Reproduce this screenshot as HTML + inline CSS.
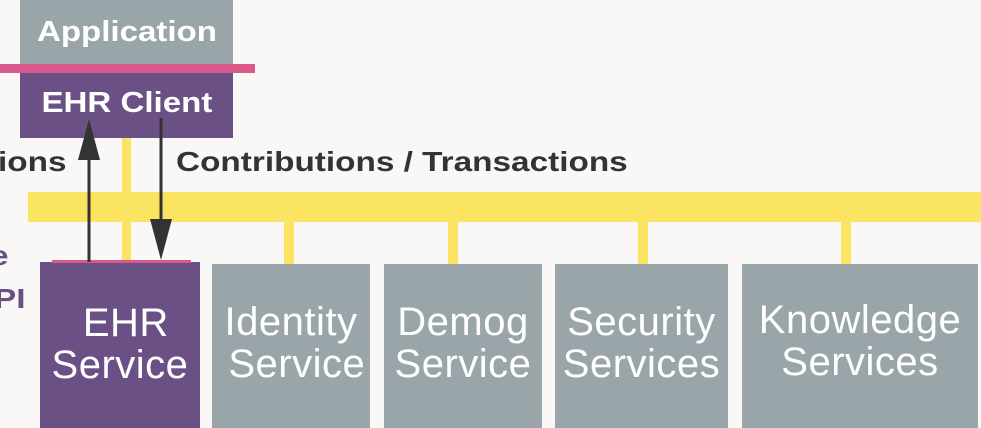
<!DOCTYPE html>
<html><head><style>
body{margin:0;width:981px;height:428px;background:#f9f8f6;position:relative;overflow:hidden;font-family:"Liberation Sans",Arial,sans-serif}
div{position:absolute}
.g{background:#9aa5a9}
.p{background:#6a5084}
.y{background:#fbe462}
.t{color:#fff;text-align:center;font-size:40px;line-height:42px;letter-spacing:0.5px}
.b{color:#fff;font-weight:bold;font-size:29px;text-align:center}
.b span{display:inline-block;transform:scaleX(1.14)}
.s{transform-origin:0 0;transform:scaleX(1.19);white-space:nowrap}
</style></head><body>
<div class="g b" style="left:20px;top:0;width:213px;height:64px;line-height:64px"><span>Application</span></div>
<div style="left:0;top:64px;width:255px;height:9px;background:#d9598a"></div>
<div class="p b" style="left:20px;top:73px;width:213px;height:65px;line-height:60px"><span>EHR Client</span></div>
<div class="y" style="left:122px;top:138px;width:9px;height:125px"></div>
<div class="y" style="left:28px;top:192px;width:953px;height:30px"></div>
<div class="y" style="left:284px;top:222px;width:10px;height:42px"></div>
<div class="y" style="left:448px;top:222px;width:10px;height:42px"></div>
<div class="y" style="left:638px;top:222px;width:10px;height:42px"></div>
<div class="y" style="left:841px;top:222px;width:10px;height:42px"></div>
<div class="s" style="left:-2px;top:146px;font-weight:bold;font-size:28px;color:#333">ions</div>
<div class="s" style="left:176px;top:146px;font-weight:bold;font-size:28px;color:#333">Contributions / Transactions</div>
<div class="s" style="left:-10px;top:240px;font-weight:bold;font-size:28px;color:#6a5084">e</div>
<div class="s" style="left:-6px;top:283px;font-weight:bold;font-size:28px;color:#6a5084">PI</div>
<div class="p t" style="left:40px;top:262px;width:160px;height:166px;padding-top:40px;box-sizing:border-box">&nbsp;EHR<br>Service</div>
<div style="left:52px;top:260px;width:139px;height:3px;background:#d9598a"></div>
<div class="g t" style="left:212px;top:264px;width:158px;height:164px;padding-top:37px;box-sizing:border-box">Identity<br>&nbsp;Service</div>
<div class="g t" style="left:384px;top:264px;width:158px;height:164px;padding-top:37px;box-sizing:border-box">Demog<br>Service</div>
<div class="g t" style="left:555px;top:264px;width:173px;height:164px;padding-top:37px;box-sizing:border-box">Security<br>Services</div>
<div class="g t" style="left:742px;top:264px;width:236px;height:164px;padding-top:35px;box-sizing:border-box">Knowledge<br>Services</div>
<svg style="position:absolute;left:0;top:0" width="981" height="428">
<line x1="89" y1="262" x2="89" y2="155" stroke="#333" stroke-width="3"/>
<polygon points="89,119 78,160 100,160" fill="#333"/>
<line x1="161" y1="118" x2="161" y2="225" stroke="#333" stroke-width="3"/>
<polygon points="161,260 150,219 172,219" fill="#333"/>
</svg>
</body></html>
